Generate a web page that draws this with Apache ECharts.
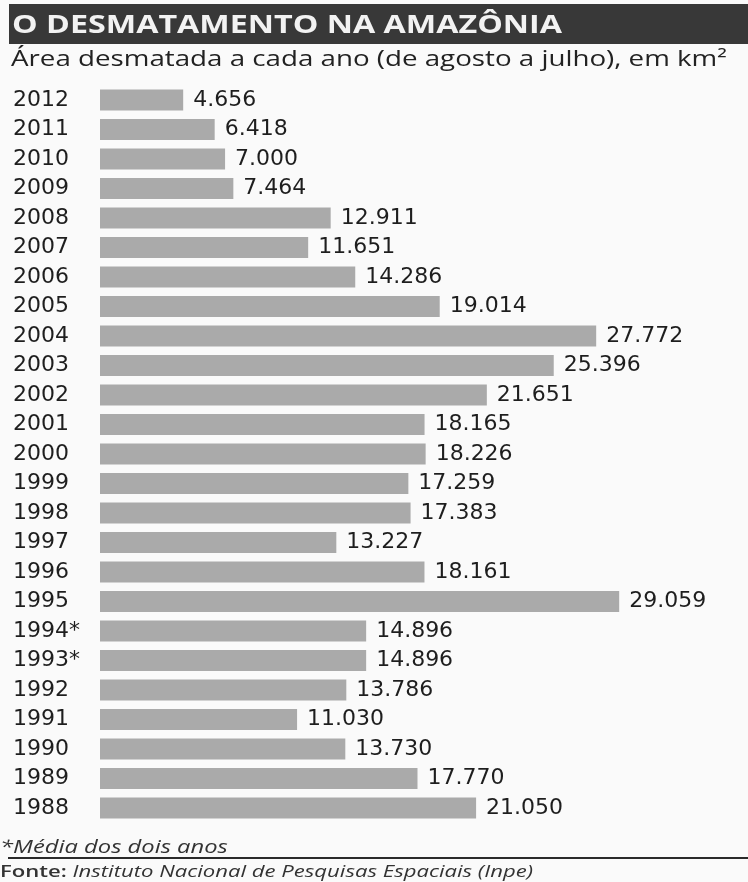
<!DOCTYPE html>
<html>
<head>
<meta charset="utf-8">
<script src="https://cdn.jsdelivr.net/npm/echarts@6/dist/echarts.min.js"></script>
<style>
html,body{margin:0;padding:0;background:#fafafa;}
#chart{width:748px;height:882px;}
</style>
</head>
<body>
<div id="chart"></div>
<script>
var years = ['2012','2011','2010','2009','2008','2007','2006','2005','2004','2003','2002','2001','2000','1999','1998','1997','1996','1995','1994*','1993*','1992','1991','1990','1989','1988'];
var areas = [4656,6418,7000,7464,12911,11651,14286,19014,27772,25396,21651,18165,18226,17259,17383,13227,18161,29059,14896,14896,13786,11030,13730,17770,21050];
var titleText = 'O DESMATAMENTO NA AMAZÔNIA';
var subtitleText = 'Área desmatada a cada ano (de agosto a julho), em km²';
var noteText = '*Média dos dois anos';
var sourceLabel = 'Fonte:';
var sourceText = ' Instituto Nacional de Pesquisas Espaciais (Inpe)';

function fmt(v){ return String(v).replace(/\B(?=(\d{3})+(?!\d))/g, '.'); }

var chart = echarts.init(document.getElementById('chart'));
chart.setOption({
  backgroundColor: '#fafafa',
  animation: false,
  grid: { left: 100, right: 112, top: 85.25, bottom: 59.25, containLabel: false },
  xAxis: { type: 'value', min: 0, max: 30000, show: false },
  yAxis: {
    type: 'category', data: years, inverse: true,
    axisLine: { show: false }, axisTick: { show: false },
    axisLabel: { align: 'left', margin: 87, fontFamily: 'DejaVu Sans', fontSize: 22, color: '#1e1e1e' }
  },
  series: [{
    type: 'bar', data: areas, barWidth: 21,
    itemStyle: { color: '#aaaaaa' },
    label: {
      show: true, position: 'right', distance: 10,
      fontFamily: 'DejaVu Sans', fontSize: 22, color: '#1e1e1e',
      formatter: function(p){ return fmt(p.value); }
    }
  }],
  graphic: [
    { type: 'rect', shape: { x: 9, y: 4, width: 739, height: 40 }, style: { fill: '#383838' } },
    { type: 'text', x: 12, y: 26, scaleX: 1.29, style: { text: titleText, fill: '#f2f2f2', font: 'bold 25px "Open Sans"', textVerticalAlign: 'middle' } },
    { type: 'text', x: 11, y: 60, scaleX: 1.32, style: { text: subtitleText, fill: '#222', font: '21px "Open Sans"', textVerticalAlign: 'middle' } },
    { type: 'text', x: 0, y: 848, scaleX: 1.32, style: { text: noteText, fill: '#333', font: 'italic 18px "Open Sans"', textVerticalAlign: 'middle' } },
    { type: 'rect', shape: { x: 8, y: 857, width: 740, height: 2 }, style: { fill: '#2a2a2a' } },
    { type: 'text', x: 0, y: 872, scaleX: 1.3, style: {
        text: '{b|' + sourceLabel + '}{i|' + sourceText + '}', textVerticalAlign: 'middle',
        rich: { b: { font: '600 17px "Open Sans"', fill: '#333' }, i: { font: 'italic 17px "Open Sans"', fill: '#333' } }
    } }
  ]
});
</script>
</body>
</html>
